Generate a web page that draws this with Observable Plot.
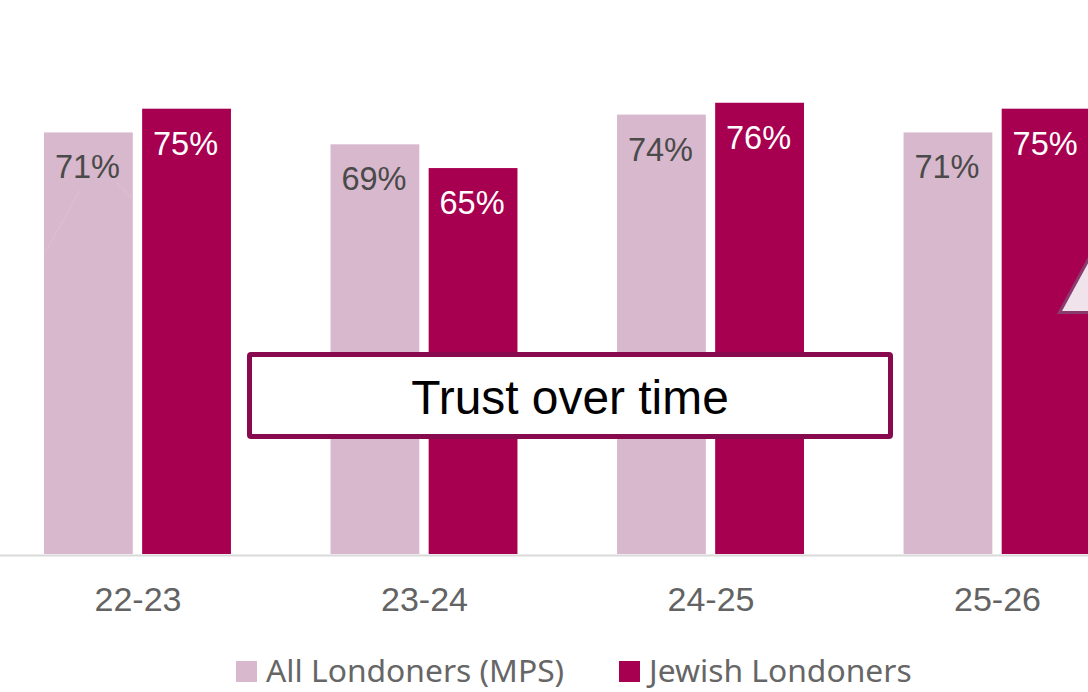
<!DOCTYPE html>
<html>
<head>
<meta charset="utf-8">
<script src="https://cdn.jsdelivr.net/npm/d3@7"></script>
<script src="https://cdn.jsdelivr.net/npm/@observablehq/plot@0.6"></script>
<style>
html,body{margin:0;padding:0;background:#fff;width:1088px;height:692px;overflow:hidden;position:relative}
#chart svg{display:block}
.box{position:absolute;left:247px;top:352px;width:636px;height:77px;border:5px solid #870A4F;border-radius:4px;background:#fff;
 font:47.9px "Liberation Sans",Arial,sans-serif;color:#000;display:flex;align-items:center;justify-content:center;padding-top:0}
.box b{font-weight:normal;position:relative;top:2px}
.legend{position:absolute;left:0;top:640px;width:1088px;height:52px;font:31.8px "Noto Sans",sans-serif;color:#666666}
.legend span{position:absolute;top:8px;white-space:nowrap;line-height:44px}
.legend i{position:absolute;top:21px;width:21px;height:21px}
#deco{position:absolute;left:0;top:0;pointer-events:none}
</style>
</head>
<body>
<div id="chart"></div>
<svg id="deco" width="1088" height="692" viewBox="0 0 1088 692">
  <path d="M45 253L80 190M117 183L132 198" fill="none" stroke="#dcc4d3" stroke-width="1.5" stroke-dasharray="1.5 1.5"/>
  <path d="M1059.5 312.5L1100 238V312.5Z" fill="#F0E3EC" stroke="#8A3B6E" stroke-width="3"/>
</svg>
<div class="box"><b>Trust over time</b></div>
<div class="legend">
  <i style="left:236px;background:#D8B8CC"></i><span style="left:266px" id="l0"></span>
  <i style="left:619px;background:#A80050"></i><span style="left:649px" id="l1"></span>
</div>
<script>
const periods = ["22-23", "23-24", "24-25", "25-26"];
const series = ["All Londoners (MPS)", "Jewish Londoners"];
const allLondoners = [71, 69, 74, 71];
const jewishLondoners = [75, 65, 76, 75];
const colors = ["#D8B8CC", "#A80050"];
const labelColors = ["#4A4A4A", "#FFFFFF"];

const rows = periods.flatMap((period, i) => [
  {period, series: series[0], value: allLondoners[i]},
  {period, series: series[1], value: jewishLondoners[i]}
]);

document.getElementById("l0").textContent = series[0];
document.getElementById("l1").textContent = series[1];

const plot = Plot.plot({
  width: 1088,
  height: 640,
  marginTop: 0,
  marginRight: 0,
  marginBottom: 86,
  marginLeft: 0,
  style: {background: "#fff", overflow: "hidden"},
  fx: {domain: periods, range: [44, 1090.5], padding: 0.3475, round: false, label: null, axis: null},
  x: {domain: series, paddingInner: 0.095, paddingOuter: 0, round: false, axis: null},
  y: {domain: [0, 80], range: [554, 79], axis: null},
  color: {domain: series, range: colors},
  marks: [
    Plot.barY(rows, {fx: "period", x: "series", y: "value", fill: "series"}),
    Plot.ruleY([0], {stroke: "#D9D9D9", strokeWidth: 2, dy: 1, insetLeft: -50, insetRight: -50}),
    Plot.text(rows, {
      fx: "period", x: "series", y: "value",
      text: d => d.value + "%",
      fill: d => labelColors[series.indexOf(d.series)],
      dx: -1.5, dy: 35, fontSize: 32.5, fontFamily: "Liberation Sans, Arial, sans-serif", lineAnchor: "middle"
    }),
    Plot.axisFx({
      anchor: "bottom", tickSize: 0, tickPadding: 32, label: null,
      fontSize: 34, fontFamily: "Liberation Sans, Arial, sans-serif", color: "#636363"
    })
  ]
});
document.getElementById("chart").appendChild(plot);
</script>
</body>
</html>
